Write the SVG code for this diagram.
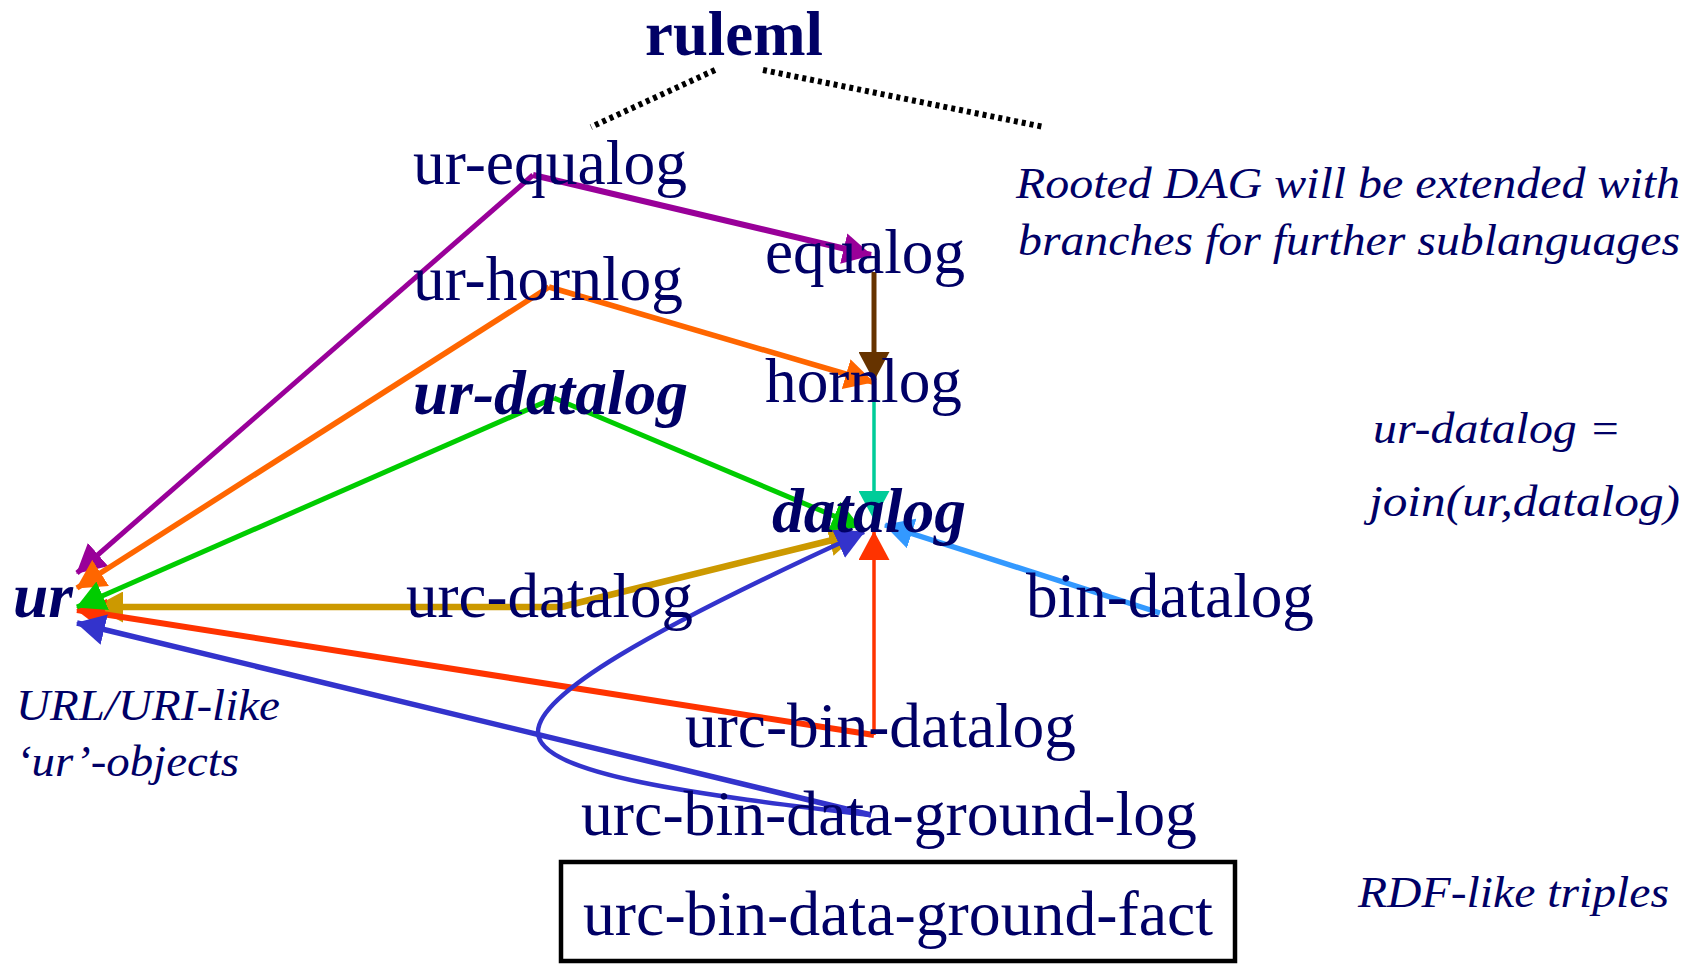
<svg xmlns="http://www.w3.org/2000/svg" width="1694" height="964" viewBox="0 0 1694 964">
  <defs>
    <style>
      .lbl { font-family: "Liberation Serif", "Times New Roman", serif; font-size: 63px; fill: #000066; }
      .bold { font-weight: bold; }
      .bi { font-weight: bold; font-style: italic; }
      .note { font-family: "Liberation Serif", "Times New Roman", serif; font-size: 44px; font-style: italic; fill: #000066; }
      .edge { fill: none; stroke-linecap: butt; stroke-linejoin: round; }
      .dots { fill: none; stroke: #000000; stroke-width: 6; stroke-dasharray: 4 4; }
    </style>
    <marker id="m-purple" markerUnits="userSpaceOnUse" markerWidth="29" markerHeight="31" refX="28" refY="15.5" orient="auto"><path d="M0,0 L29,15.5 L0,31 z" fill="#990099"/></marker>
    <marker id="m-orange" markerUnits="userSpaceOnUse" markerWidth="29" markerHeight="31" refX="28" refY="15.5" orient="auto"><path d="M0,0 L29,15.5 L0,31 z" fill="#ff6600"/></marker>
    <marker id="m-green" markerUnits="userSpaceOnUse" markerWidth="29" markerHeight="31" refX="28" refY="15.5" orient="auto"><path d="M0,0 L29,15.5 L0,31 z" fill="#00cc00"/></marker>
    <marker id="m-brown" markerUnits="userSpaceOnUse" markerWidth="29" markerHeight="31" refX="28" refY="15.5" orient="auto"><path d="M0,0 L29,15.5 L0,31 z" fill="#663300"/></marker>
    <marker id="m-teal" markerUnits="userSpaceOnUse" markerWidth="29" markerHeight="31" refX="28" refY="15.5" orient="auto"><path d="M0,0 L29,15.5 L0,31 z" fill="#00cc99"/></marker>
    <marker id="m-gold" markerUnits="userSpaceOnUse" markerWidth="29" markerHeight="31" refX="28" refY="15.5" orient="auto"><path d="M0,0 L29,15.5 L0,31 z" fill="#cc9900"/></marker>
    <marker id="m-sky" markerUnits="userSpaceOnUse" markerWidth="29" markerHeight="31" refX="28" refY="15.5" orient="auto"><path d="M0,0 L29,15.5 L0,31 z" fill="#3399ff"/></marker>
    <marker id="m-red" markerUnits="userSpaceOnUse" markerWidth="29" markerHeight="31" refX="28" refY="15.5" orient="auto"><path d="M0,0 L29,15.5 L0,31 z" fill="#ff3300"/></marker>
    <marker id="m-blue" markerUnits="userSpaceOnUse" markerWidth="29" markerHeight="31" refX="28" refY="15.5" orient="auto"><path d="M0,0 L29,15.5 L0,31 z" fill="#3333cc"/></marker>
  </defs>

  <rect x="0" y="0" width="1694" height="964" fill="#ffffff"/>

  <!-- root and its dotted branches -->
  <g id="node-ruleml">
    <text class="lbl bold" x="645" y="55" textLength="178" lengthAdjust="spacingAndGlyphs">ruleml</text>
  </g>
  <g id="root-branches">
    <line class="dots" x1="715" y1="70" x2="591" y2="127"/>
    <line class="dots" x1="763" y1="70" x2="1044" y2="127"/>
  </g>

  <!-- connectors -->
  <g id="connectors">
    <path class="edge" d="M533,175 L871,255" stroke="#990099" stroke-width="6" marker-end="url(#m-purple)"/>
    <path class="edge" d="M533,175 L77,573" stroke="#990099" stroke-width="5" marker-end="url(#m-purple)"/>
    <path class="edge" d="M549,287 L873,382" stroke="#ff6600" stroke-width="5.5" marker-end="url(#m-orange)"/>
    <path class="edge" d="M549,287 L77,588" stroke="#ff6600" stroke-width="5.5" marker-end="url(#m-orange)"/>
    <path class="edge" d="M874,272 L874,380" stroke="#663300" stroke-width="5" marker-end="url(#m-brown)"/>
    <path class="edge" d="M874,385 L874,519" stroke="#00cc99" stroke-width="3.5" marker-end="url(#m-teal)"/>
    <path class="edge" d="M1160,613 L885,525" stroke="#3399ff" stroke-width="5.5" marker-end="url(#m-sky)"/>
    <path class="edge" d="M561,607 L857,534" stroke="#cc9900" stroke-width="6.5" marker-end="url(#m-gold)"/>
    <path class="edge" d="M561,607 L95,607" stroke="#cc9900" stroke-width="6.5" marker-end="url(#m-gold)"/>
    <path class="edge" d="M874,735 L77,610" stroke="#ff3300" stroke-width="6" marker-end="url(#m-red)"/>
    <path class="edge" d="M874,735 L874,532" stroke="#ff3300" stroke-width="3.5" marker-end="url(#m-red)"/>
    <path class="edge" d="M871,815 L77,623" stroke="#3333cc" stroke-width="5.5" marker-end="url(#m-blue)"/>
    <path class="edge" d="M871,815 C700,795 540,775 538,733 C536,695 650,630 864,532" stroke="#3333cc" stroke-width="4.5" marker-end="url(#m-blue)"/>
    <path class="edge" d="M554,398 L860,527" stroke="#00cc00" stroke-width="5" marker-end="url(#m-green)"/>
    <path class="edge" d="M554,398 L77,607" stroke="#00cc00" stroke-width="5" marker-end="url(#m-green)"/>
  </g>

  <!-- language nodes -->
  <g id="node-ur-equalog"><text class="lbl" x="413" y="184" textLength="274" lengthAdjust="spacingAndGlyphs">ur-equalog</text></g>
  <g id="node-equalog"><text class="lbl" x="765" y="273" textLength="200" lengthAdjust="spacingAndGlyphs">equalog</text></g>
  <g id="node-ur-hornlog"><text class="lbl" x="413" y="300" textLength="270" lengthAdjust="spacingAndGlyphs">ur-hornlog</text></g>
  <g id="node-hornlog"><text class="lbl" x="765" y="402" textLength="197" lengthAdjust="spacingAndGlyphs">hornlog</text></g>
  <g id="node-ur-datalog"><text class="lbl bi" x="413" y="414" textLength="275" lengthAdjust="spacingAndGlyphs">ur-datalog</text></g>
  <g id="node-datalog"><text class="lbl bi" x="772" y="532" textLength="194" lengthAdjust="spacingAndGlyphs">datalog</text></g>
  <g id="node-ur"><text class="lbl bi" x="13" y="617" textLength="60" lengthAdjust="spacingAndGlyphs">ur</text></g>
  <g id="node-urc-datalog"><text class="lbl" x="406" y="617" textLength="287" lengthAdjust="spacingAndGlyphs">urc-datalog</text></g>
  <g id="node-bin-datalog"><text class="lbl" x="1026" y="617" textLength="288" lengthAdjust="spacingAndGlyphs">bin-datalog</text></g>
  <g id="node-urc-bin-datalog"><text class="lbl" x="685" y="747" textLength="391" lengthAdjust="spacingAndGlyphs">urc-bin-datalog</text></g>
  <g id="node-urc-bin-data-ground-log"><text class="lbl" x="581" y="835" textLength="616" lengthAdjust="spacingAndGlyphs">urc-bin-data-ground-log</text></g>
  <g id="node-urc-bin-data-ground-fact">
    <rect x="561" y="862" width="674" height="99" fill="none" stroke="#000000" stroke-width="4.5"/>
    <text class="lbl" x="583" y="935" textLength="630" lengthAdjust="spacingAndGlyphs">urc-bin-data-ground-fact</text>
  </g>

  <!-- annotations -->
  <g id="note-dag">
    <text class="note" x="1016" y="198" textLength="664" lengthAdjust="spacingAndGlyphs">Rooted DAG will be extended with</text>
    <text class="note" x="1018" y="255" textLength="662" lengthAdjust="spacingAndGlyphs">branches for further sublanguages</text>
  </g>
  <g id="note-join">
    <text class="note" x="1373" y="443" textLength="248" lengthAdjust="spacingAndGlyphs">ur-datalog =</text>
    <text class="note" x="1369" y="516" textLength="311" lengthAdjust="spacingAndGlyphs">join(ur,datalog)</text>
  </g>
  <g id="note-ur">
    <text class="note" x="16" y="720" textLength="264" lengthAdjust="spacingAndGlyphs">URL/URI-like</text>
    <text class="note" x="16" y="776" textLength="223" lengthAdjust="spacingAndGlyphs">‘ur’-objects</text>
  </g>
  <g id="note-rdf">
    <text class="note" x="1358" y="907" textLength="311" lengthAdjust="spacingAndGlyphs">RDF-like triples</text>
  </g>
</svg>
